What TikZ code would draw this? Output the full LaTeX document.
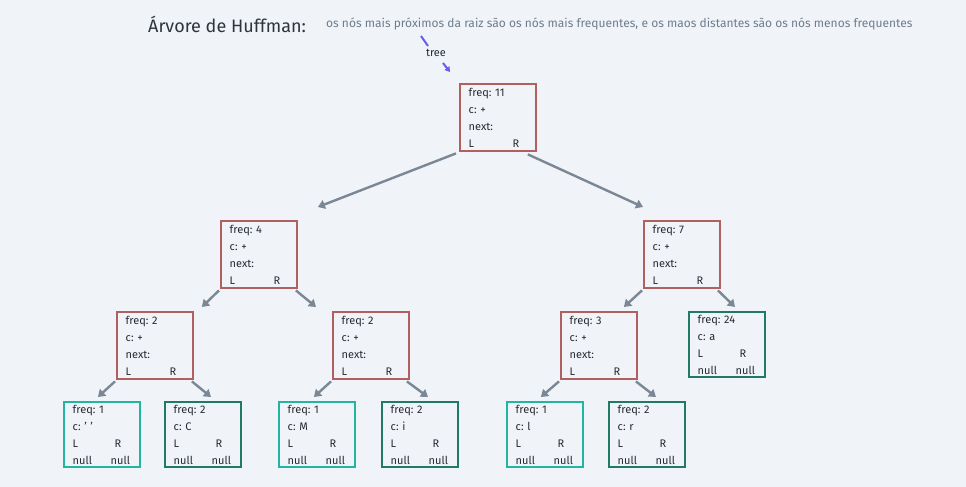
\documentclass[tikz,border=0pt]{standalone}
\usepackage{fontspec}
\setmainfont{Fira Sans}
\usetikzlibrary{arrows.meta}
\definecolor{bg}{HTML}{F0F4F8}
\definecolor{redb}{HTML}{B0605E}
\definecolor{tealb}{HTML}{22B5A2}
\definecolor{greenb}{HTML}{1F7A66}
\definecolor{arrg}{HTML}{7B8794}
\definecolor{txt}{HTML}{262B33}
\definecolor{subt}{HTML}{6E7C8C}
\definecolor{blu}{HTML}{6B5CF0}
\tikzset{
  box/.style={draw, line width=2.4pt, anchor=north west, rectangle, text width=58.5pt, inner xsep=8.5pt, inner ysep=0pt, align=left, font=\fontsize{11}{17}\selectfont, text=txt},
  inner/.style={box, draw=redb, minimum height=67pt},
  leafa/.style={box, draw=tealb, minimum height=65pt},
  leafb/.style={box, draw=greenb, minimum height=65pt},
  arr/.style={draw=arrg, line width=2.4pt, -{Triangle[length=7pt,width=9pt]}},
}
\newcommand{\lr}{\makebox[44pt][l]{L}R}
\newcommand{\lrl}{\makebox[42pt][l]{L}R\\\makebox[38pt][l]{null}null}
\frenchspacing
\begin{document}
\begin{tikzpicture}[x=1pt,y=-1pt]
\fill[bg] (0,0) rectangle (966,487);
\useasboundingbox (0,0) rectangle (966,487);
\node[anchor=west, font=\fontsize{18}{20}\selectfont, text=txt!90!gray, inner sep=0pt] (title) at (148,24) {Árvore de Huffman:};
\node[anchor=west, font=\fontsize{12}{14}\selectfont, text=subt, inner sep=0pt] (sub) at (326,24) {os nós mais próximos da raiz são os nós mais frequentes, e os maos distantes são os nós menos frequentes};
\node[font=\fontsize{11}{12}\selectfont, text=txt, inner sep=0pt] (tree) at (436,53) {tree};
\coordinate (rootin) at (450,72);
\draw[blu, line width=2pt] (421,36) -- (428,46);
\draw[blu, line width=2pt, -{Triangle[length=5pt,width=6pt]}] (443,63) -- (rootin);

\node[inner] (root) at (459,83) {freq: 11\\c: +\\next:\\\lr};
\node[inner] (n4) at (220,220) {freq: 4\\c: +\\next:\\\lr};
\node[inner] (n7) at (643,220) {freq: 7\\c: +\\next:\\\lr};
\node[inner] (n2a) at (116,311) {freq: 2\\c: +\\next:\\\lr};
\node[inner] (n2b) at (332,311) {freq: 2\\c: +\\next:\\\lr};
\node[inner] (n3) at (560,311) {freq: 3\\c: +\\next:\\\lr};
\node[leafb] (n24) at (688,311) {freq: 24\\c: a\\\lrl};
\node[leafa] (ls) at (63,401) {freq: 1\\c: ' '\\\lrl};
\node[leafb] (lC) at (164,401) {freq: 2\\c: C\\\lrl};
\node[leafa] (lM) at (278,401) {freq: 1\\c: M\\\lrl};
\node[leafb] (li) at (381,401) {freq: 2\\c: i\\\lrl};
\node[leafa] (ll) at (506,401) {freq: 1\\c: l\\\lrl};
\node[leafb] (lr) at (608,401) {freq: 2\\c: r\\\lrl};

\draw[arr] ([shift={(-3,1)}]root.south west) -- ([shift={(20,-13)}]n4.north east);
\draw[arr] ([shift={(-9,2)}]root.south east) -- ([shift={(0,-13)}]n7.north west);
\draw[arr] ([shift={(-1,1)}]n4.south west) -- ([shift={(8,-4)}]n2a.north east);
\draw[arr] ([shift={(-2,1)}]n4.south east) -- ([shift={(-16,-4)}]n2b.north west);
\draw[arr] ([shift={(-1,1)}]n7.south west) -- ([shift={(-14,-4)}]n3.north east);
\draw[arr] ([shift={(-3,1)}]n7.south east) -- ([shift={(47,-4)}]n24.north west);
\draw[arr] ([shift={(-1,1)}]n2a.south west) -- ([shift={(-43,-4)}]ls.north east);
\draw[arr] ([shift={(-2,1)}]n2a.south east) -- ([shift={(47,-4)}]lC.north west);
\draw[arr] ([shift={(-1,1)}]n2b.south west) -- ([shift={(-42,-4)}]lM.north east);
\draw[arr] ([shift={(-3,1)}]n2b.south east) -- ([shift={(47,-4)}]li.north west);
\draw[arr] ([shift={(-1,1)}]n3.south west) -- ([shift={(-43,-4)}]ll.north east);
\draw[arr] ([shift={(-2,1)}]n3.south east) -- ([shift={(48,-4)}]lr.north west);
\end{tikzpicture}
\end{document}
